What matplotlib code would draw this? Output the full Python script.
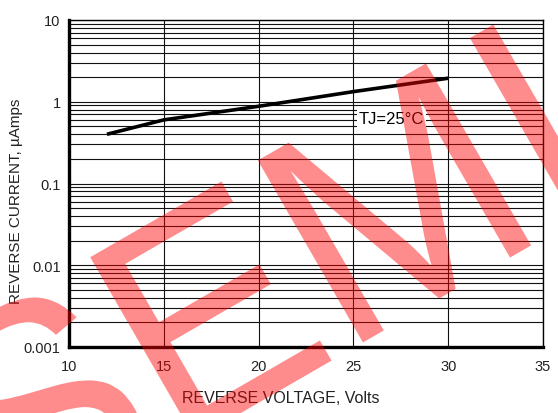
import matplotlib
matplotlib.use("Agg")
import matplotlib.pyplot as plt
from matplotlib.ticker import FixedLocator, LogLocator, NullFormatter
from matplotlib.textpath import TextPath
from matplotlib.patches import PathPatch
from matplotlib.transforms import Affine2D, IdentityTransform
from matplotlib.font_manager import FontProperties

plt.rcParams['font.family'] = ['Liberation Sans', 'DejaVu Sans']

# reverse current vs reverse voltage
voltage = [12, 15, 20, 25, 30]
current = [0.40, 0.60, 0.88, 1.33, 1.94]

x_ticks = [10, 15, 20, 25, 30, 35]
y_ticks = [0.001, 0.01, 0.1, 1, 10]
y_tick_labels = ["0.001", "0.01", "0.1", "1", "10"]

fig = plt.figure(figsize=(5.58, 4.14), dpi=100)
ax = fig.add_axes([69/558, 1-348/414, (543-69)/558, (348-21)/414])

ax.set_yscale("log")
ax.set_xlim(10, 35)
ax.set_ylim(0.001, 10)

# grid: every minor decade step, verticals every 5 V
ax.yaxis.set_major_locator(FixedLocator(y_ticks))
ax.yaxis.set_minor_locator(LogLocator(base=10, subs=range(2, 10)))
ax.yaxis.set_minor_formatter(NullFormatter())
ax.set_yticks(y_ticks)
ax.set_yticklabels(y_tick_labels)
ax.set_xticks(x_ticks)
ax.set_xticklabels([str(t) for t in x_ticks])
ax.grid(True, which="both", axis="y", color="#111111", lw=0.8)
ax.grid(True, which="major", axis="x", color="#111111", lw=0.8)
ax.tick_params(which="both", length=0, labelsize=10.5, labelcolor="#222222")
ax.tick_params(axis="x", pad=9)
ax.tick_params(axis="y", pad=6)

for side in ["left", "bottom"]:
    ax.spines[side].set_linewidth(2.4)
for side in ["top", "right"]:
    ax.spines[side].set_linewidth(1.0)

ax.plot(voltage, current, color="black", lw=2.6, solid_capstyle="butt")

ax.text(27.0, 0.63, "TJ=25°C", fontsize=12, ha="center", va="center",
        bbox=dict(facecolor="white", edgecolor="none", pad=1.5))

fig.text(281/558, 1-399/414, "REVERSE VOLTAGE, Volts", ha="center", va="center",
         fontsize=11.5, color="#222222")
fig.text(16/558, 1-201/414, "REVERSE CURRENT, µAmps", ha="center", va="center",
         rotation=90, fontsize=11, color="#222222")

# watermark, slightly narrowed letters, placed in pixel coords
wm = TextPath((0, 0), "SEMI", size=220*100/72, prop=FontProperties(family="Liberation Sans"))
wm_tr = Affine2D().scale(0.95, 1).rotate_deg(30).translate(7, 414-549)
fig.add_artist(PathPatch(wm_tr.transform_path(wm), transform=IdentityTransform(),
                         facecolor="red", edgecolor="none", alpha=0.45, zorder=10))

fig.savefig("out.png", dpi=100)
